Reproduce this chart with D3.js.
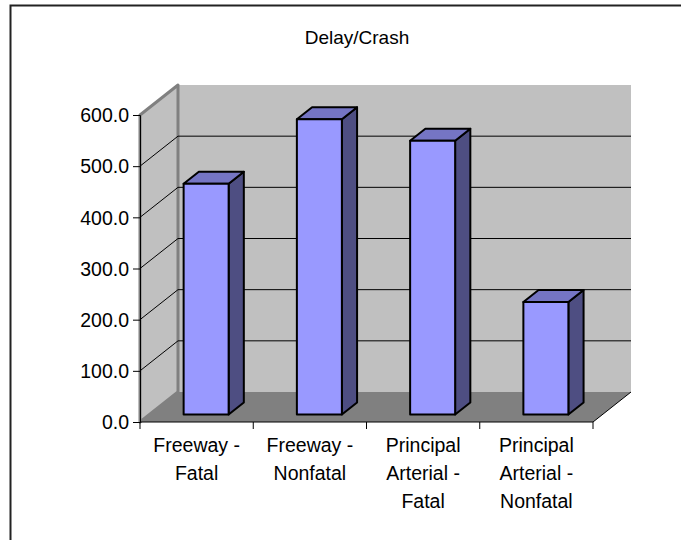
<!DOCTYPE html>
<html>
<head>
<meta charset="utf-8">
<script src="https://cdn.jsdelivr.net/npm/d3@7"></script>
<style>
  body { margin: 0; background: #fff; }
  text { font-family: "Liberation Sans", Arial, sans-serif; fill: #000; }
</style>
</head>
<body>
<svg id="chart" width="681" height="540"></svg>
<script>
const title = 'Delay/Crash';
const categories = ['Freeway - Fatal', 'Freeway - Nonfatal', 'Principal Arterial - Fatal', 'Principal Arterial - Nonfatal'];
const categoryLines = [['Freeway -', 'Fatal'], ['Freeway -', 'Nonfatal'], ['Principal', 'Arterial -', 'Fatal'], ['Principal', 'Arterial -', 'Nonfatal']];
const values = [451, 577, 535, 220];
const yTicks = [0, 100, 200, 300, 400, 500, 600];

const svg = d3.select('#chart');

// depth of the 3d box
const depth = {dx: 38, dy: -30};
const barFront = 0.25, barBack = 0.65;
const barWidth = 45;

const x = d3.scaleBand()
  .domain(categories)
  .range([140, 593])
  .padding(0);

const y = d3.scaleLinear()
  .domain([0, 600])
  .range([422, 115]);

const line = d3.line();
const x0 = x.range()[0], x1 = x.range()[1];
const y0 = y(0), yTop = y(600);

// outer frame
svg.append('rect')
  .attr('x', 10.5).attr('y', 5.5)
  .attr('width', 700).attr('height', 600)
  .attr('fill', '#fff')
  .attr('stroke', '#222')
  .attr('stroke-width', 2);

svg.append('text')
  .attr('x', 357).attr('y', 44)
  .attr('text-anchor', 'middle')
  .style('font-size', '19px')
  .text(title);

// back wall
svg.append('path')
  .attr('d', line([[x0 + depth.dx, y0 + depth.dy], [x1 + depth.dx, y0 + depth.dy],
    [x1 + depth.dx, yTop + depth.dy], [x0 + depth.dx, yTop + depth.dy]]) + 'Z')
  .attr('fill', '#c0c0c0');

// side wall
svg.append('path')
  .attr('d', line([[x0, y0], [x0 + depth.dx, y0 + depth.dy],
    [x0 + depth.dx, yTop + depth.dy], [x0, yTop]]) + 'Z')
  .attr('fill', '#c0c0c0')
  .attr('stroke', '#808080')
  .attr('stroke-width', 3)
  .attr('stroke-linejoin', 'round');

// gridlines on both walls
const grid = svg.append('g')
  .attr('stroke', '#000')
  .attr('stroke-width', 1)
  .attr('fill', 'none');

yTicks.filter(d => d > 0 && d < 600).forEach(d => {
  grid.append('path')
    .attr('d', line([[x0, y(d)], [x0 + depth.dx, y(d) + depth.dy], [x1 + depth.dx, y(d) + depth.dy]]));
});

// floor
svg.append('path')
  .attr('d', line([[x0, y0], [x1, y0], [x1 + depth.dx, y0 + depth.dy], [x0 + depth.dx, y0 + depth.dy]]) + 'Z')
  .attr('fill', '#808080');

svg.append('path')
  .attr('d', line([[x1, y0], [x1 + depth.dx, y0 + depth.dy]]))
  .attr('stroke', '#000')
  .attr('fill', 'none');

// bars
const bars = svg.selectAll('g.bar')
  .data(values)
  .join('g')
  .attr('class', 'bar')
  .attr('stroke', '#000')
  .attr('stroke-width', 2)
  .attr('stroke-linejoin', 'round');

const fx = (d, i) => x(categories[i]) + x.bandwidth() / 2 - barWidth / 2 + depth.dx * barFront;
const fy = v => y(v) + depth.dy * barFront;
const bdx = depth.dx * (barBack - barFront), bdy = depth.dy * (barBack - barFront);

bars.append('path')
  .attr('fill', '#4e4e82')
  .attr('d', (d, i) => {
    const l = fx(d, i) + barWidth;
    return line([[l, fy(0)], [l + bdx, fy(0) + bdy], [l + bdx, fy(d) + bdy], [l, fy(d)]]) + 'Z';
  });

bars.append('path')
  .attr('fill', '#7575c4')
  .attr('d', (d, i) => {
    const l = fx(d, i);
    return line([[l, fy(d)], [l + bdx, fy(d) + bdy], [l + barWidth + bdx, fy(d) + bdy], [l + barWidth, fy(d)]]) + 'Z';
  });

bars.append('rect')
  .attr('fill', '#9999ff')
  .attr('x', (d, i) => fx(d, i))
  .attr('y', d => fy(d))
  .attr('width', barWidth)
  .attr('height', d => fy(0) - fy(d));

// y axis
svg.append('g')
  .attr('transform', `translate(${x0},0)`)
  .call(d3.axisLeft(y).tickValues(yTicks).tickSize(7).tickPadding(4).tickFormat(d3.format('.1f')))
  .call(g => g.selectAll('text').style('font-size', '19.5px').attr('dy', '0.35em'))
  .call(g => g.selectAll('line, path').attr('stroke', '#000'));

// x axis: ticks on category boundaries, labels centred
const xAxis = svg.append('g')
  .attr('transform', `translate(0,${y0})`);

xAxis.append('path')
  .attr('d', line([[x0, 0], [x1, 0]]))
  .attr('stroke', '#000');

xAxis.selectAll('line.tick')
  .data(categories.concat([null]))
  .join('line')
  .attr('class', 'tick')
  .attr('x1', d => d === null ? x1 : x(d))
  .attr('x2', d => d === null ? x1 : x(d))
  .attr('y1', 0).attr('y2', 7)
  .attr('stroke', '#000');

xAxis.selectAll('text.label')
  .data(categories)
  .join('text')
  .attr('class', 'label')
  .attr('text-anchor', 'middle')
  .style('font-size', '19.5px')
  .each(function(d, i) {
    d3.select(this).selectAll('tspan')
      .data(categoryLines[i])
      .join('tspan')
      .attr('x', x(d) + x.bandwidth() / 2)
      .attr('y', (t, j) => 30 + j * 28)
      .text(t => t);
  });
</script>
</body>
</html>
